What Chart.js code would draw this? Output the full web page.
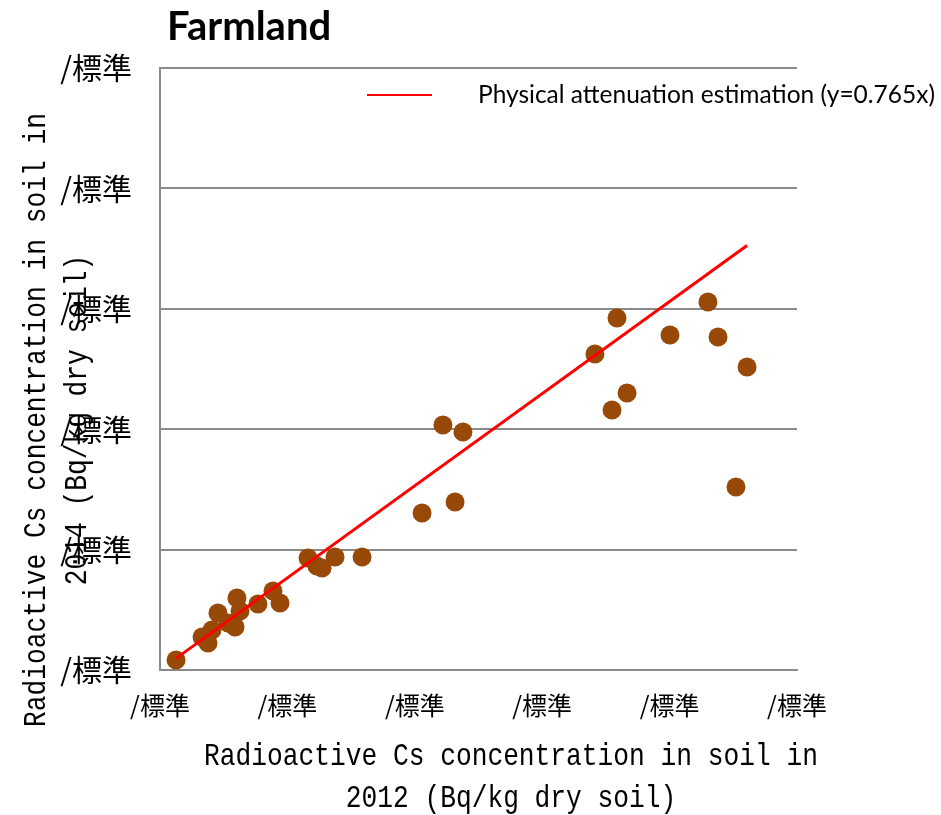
<!DOCTYPE html>
<html>
<head>
<meta charset="utf-8">
<title>Farmland</title>
<script src="https://cdn.jsdelivr.net/npm/chart.js@4.4.1/dist/chart.umd.min.js"></script>
<style>
  html, body { margin: 0; padding: 0; background: #ffffff; }
  #wrap { width: 941px; height: 815px; }
</style>
</head>
<body>
<div id="wrap"><canvas id="c" width="941" height="815"></canvas></div>
<script>
// Texts
const chartTitle = 'Farmland';
const xTitleLines = ['Radioactive Cs concentration in soil in', '2012 (Bq/kg dry soil)'];
const yTitleLines = ['Radioactive Cs concentration in soil in', '2014 (Bq/kg dry soil)'];
const lineLabel = 'Physical attenuation estimation (y=0.765x)';
const tickLabel = '/標準';

// Soil Cs concentration per farmland site (Bq/kg dry soil)
const cs2012 = [126, 330, 377, 408, 455, 534, 589, 604, 628, 769, 887, 942,
                1162, 1232, 1272, 1374, 1586, 2057, 2221, 2316, 2378,
                3414, 3548, 3587, 3666, 4003, 4301, 4380, 4521, 4608];
const cs2014 = [83, 274, 224, 332, 473, 390, 357, 598, 490, 548, 656, 556,
                930, 864, 847, 939, 939, 1304, 2035, 1395, 1977,
                2625, 2159, 2924, 2301, 2782, 3056, 2766, 1520, 2517];

// Physical attenuation line y = 0.765x over the sampled 2012 range
const slope = 0.765;
const lineX = [126, 4608];

const axisMin = 0;
const axisMax = 5000;
const axisStep = 1000;

const sites = cs2012.map((x, i) => ({ x: x, y: cs2014[i] }));
const attenuation = lineX.map(x => ({ x: x, y: slope * x }));

const GRID = '#8a8a8a';
const MONO = '"Liberation Mono"';

// narrow, tall monospace text (condensed horizontally)
function condensedText(ctx, text, x, y, rot) {
  ctx.save();
  ctx.translate(x, y);
  if (rot) ctx.rotate(rot);
  ctx.scale(0.82, 1);
  ctx.fillText(text, 0, 0);
  ctx.restore();
}

const textPlugin = {
  id: 'chartTexts',
  afterDraw(chart) {
    const ctx = chart.ctx;
    const a = chart.chartArea;
    ctx.save();
    ctx.fillStyle = '#000000';

    // chart title
    ctx.font = 'bold 40px Lato';
    ctx.textAlign = 'left';
    ctx.textBaseline = 'alphabetic';
    ctx.fillText(chartTitle, a.left + 7, 40);

    // legend for the attenuation line
    const ly = a.top + 27;
    ctx.strokeStyle = '#ff0000';
    ctx.lineWidth = 2;
    ctx.beginPath();
    ctx.moveTo(a.left + 207, ly);
    ctx.lineTo(a.left + 272, ly);
    ctx.stroke();
    ctx.font = '24.5px Lato';
    ctx.textBaseline = 'middle';
    ctx.fillText(lineLabel, a.left + 318, ly);

    // axis titles
    ctx.font = '32px ' + MONO;
    ctx.textAlign = 'center';
    ctx.textBaseline = 'middle';
    const xc = a.left + 351;
    condensedText(ctx, xTitleLines[0], xc, a.bottom + 87, 0);
    condensedText(ctx, xTitleLines[1], xc, a.bottom + 129, 0);

    const yc = a.bottom - 250;
    condensedText(ctx, yTitleLines[0], 37, yc, -Math.PI / 2);
    condensedText(ctx, yTitleLines[1], 78, yc, -Math.PI / 2);

    ctx.restore();
  }
};

new Chart(document.getElementById('c'), {
  type: 'scatter',
  data: {
    datasets: [
      {
        type: 'line',
        label: lineLabel,
        data: attenuation,
        borderColor: '#ff0000',
        borderWidth: 3,
        pointRadius: 0,
        fill: false,
        order: 0
      },
      {
        label: 'Sites',
        data: sites,
        backgroundColor: '#984807',
        borderColor: '#984807',
        borderWidth: 0,
        pointRadius: 9.5,
        pointHoverRadius: 9.5,
        order: 1
      }
    ]
  },
  options: {
    responsive: false,
    animation: false,
    devicePixelRatio: 1,
    layout: { padding: { top: 68, right: 144, left: 0, bottom: 0 } },
    plugins: {
      legend: { display: false },
      title: { display: false },
      tooltip: { enabled: false }
    },
    scales: {
      x: {
        type: 'linear',
        min: axisMin,
        max: axisMax,
        afterFit: s => { s.height = 145; },
        ticks: {
          stepSize: axisStep,
          color: '#000000',
          padding: 20,
          font: { family: '"Noto Sans CJK JP"', size: 25 },
          callback: () => tickLabel
        },
        grid: { display: false, drawTicks: false },
        border: { display: true, color: GRID, width: 2 }
      },
      y: {
        type: 'linear',
        min: axisMin,
        max: axisMax,
        afterFit: s => { s.width = 160; },
        ticks: {
          stepSize: axisStep,
          color: '#000000',
          padding: 28,
          font: { family: '"Noto Sans CJK JP"', size: 30 },
          callback: () => tickLabel
        },
        grid: { display: true, color: GRID, lineWidth: 2, drawTicks: false },
        border: { display: true, color: GRID, width: 2 }
      }
    }
  },
  plugins: [textPlugin]
});
</script>
</body>
</html>
